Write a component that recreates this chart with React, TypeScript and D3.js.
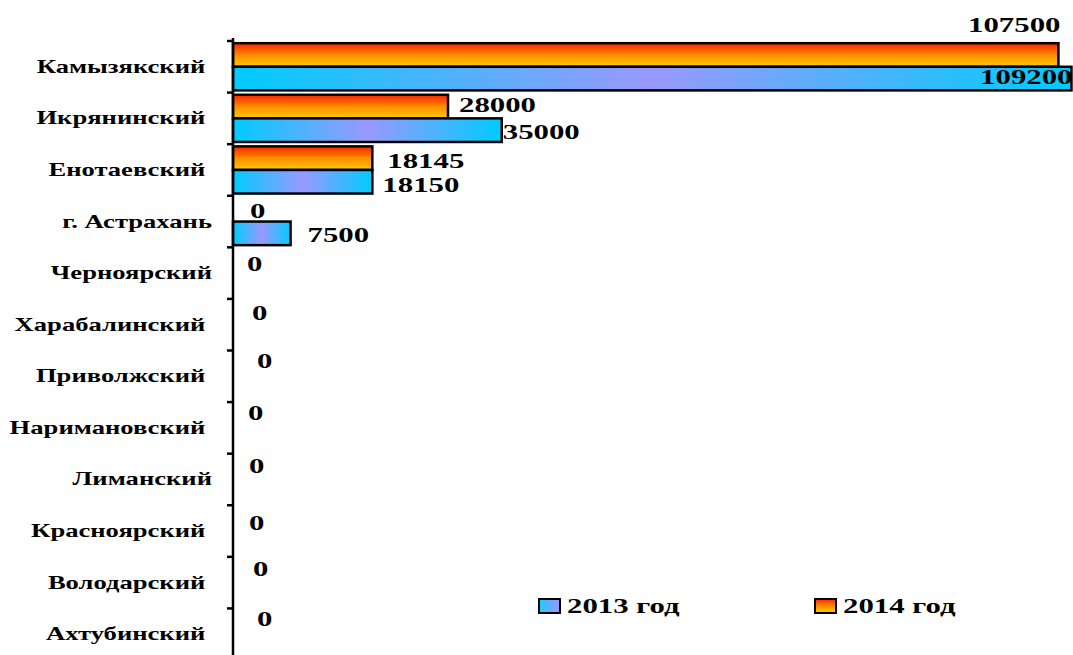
import React from "react";
import * as d3 from "d3";

// ---- data ----
const categories = [
  "Камызякский ",
  "Икрянинский ",
  "Енотаевский ",
  "г. Астрахань",
  "Черноярский",
  "Харабалинский ",
  "Приволжский ",
  "Наримановский ",
  "Лиманский",
  "Красноярский ",
  "Володарский ",
  "Ахтубинский ",
];
const values2013 = [109200, 35000, 18150, 7500, 0, 0, 0, 0, 0, 0, 0, 0];
const values2014 = [107500, 28000, 18145, 0, 0, 0, 0, 0, 0, 0, 0, 0];
const seriesNames = ["2013 год", "2014 год"];
const xMax = 109400;

// hand-placed label nudges (px), as in the original chart
const nudgeX2014 = [0, -3, 1, 3, 0, 5, 10, 1, 2, 2, 6, 10];
const nudgeY2014 = [0, -2, 2.5, 0.5, 2.5, 0, -4, -4, -2.6, 3, -2, -3.5];
const nudgeX2013 = [0, -13, -4, 3, 0, 0, 0, 0, 0, 0, 0, 0];
const nudgeY2013 = [0, 1, 2.5, 1.5, 0, 0, 0, 0, 0, 0, 0, 0];

const W = 1073;
const H = 655;
const FONT = "Liberation Serif, Times New Roman, serif";
const SX = 1.4; // horizontal stretch of the original picture's text

const x = d3.scaleLinear().domain([0, xMax]).range([233, W]);
const y = d3
  .scaleBand<string>()
  .domain(categories)
  .range([41, 660])
  .paddingInner(0.085)
  .paddingOuter(0.0425);
const ySub = d3
  .scaleBand<string>()
  .domain(["2014", "2013"])
  .range([0, y.bandwidth()]);

function StretchText({
  x0,
  y0,
  size,
  anchor = "start",
  children,
}: {
  x0: number;
  y0: number;
  size: number;
  anchor?: string;
  children: React.ReactNode;
}) {
  return (
    <text
      transform={`translate(${x0},${y0}) scale(${SX},1)`}
      fontFamily={FONT}
      fontWeight="bold"
      fontSize={size}
      textAnchor={anchor}
      fill="#000"
      style={{ whiteSpace: "pre" }}
    >
      {children}
    </text>
  );
}

export default function App() {
  const x0 = x(0);
  const gap = (y.step() - y.bandwidth()) / 2;
  const boundaries = categories.map((c) => (y(c) as number) - gap);
  const last = (y(categories[categories.length - 1]) as number) + y.bandwidth() + gap;
  const LBL = 22;
  const off = 14;

  return (
    <div style={{ position: "absolute", left: 0, top: 0 }}>
      <svg width={W} height={H} style={{ display: "block", background: "#fff" }}>
        <defs>
          <linearGradient id="gBlue" x1="0" y1="0" x2="1" y2="0">
            <stop offset="0" stopColor="#00ccff" />
            <stop offset="0.5" stopColor="#9999ff" />
            <stop offset="1" stopColor="#00ccff" />
          </linearGradient>
          <linearGradient id="gBlueLeg" x1="0" y1="0" x2="1" y2="0">
            <stop offset="0" stopColor="#22c8ff" />
            <stop offset="1" stopColor="#9999ff" />
          </linearGradient>
          <linearGradient id="gOrange" x1="0" y1="0" x2="0" y2="1">
            <stop offset="0" stopColor="#ff2200" />
            <stop offset="0.5" stopColor="#ff8c00" />
            <stop offset="1" stopColor="#ffcc00" />
          </linearGradient>
        </defs>

        {/* bars */}
        {categories.map((c, i) => {
          const by = y(c) as number;
          const v14 = values2014[i];
          const v13 = values2013[i];
          return (
            <g key={c}>
              {v14 > 0 && (
                <rect
                  x={x0}
                  y={by + (ySub("2014") as number)}
                  width={x(v14) - x0}
                  height={ySub.bandwidth()}
                  fill="url(#gOrange)"
                  stroke="#000"
                  strokeWidth={2.5}
                />
              )}
              {v13 > 0 && (
                <rect
                  x={x0}
                  y={by + (ySub("2013") as number)}
                  width={x(v13) - x0}
                  height={ySub.bandwidth()}
                  fill="url(#gBlue)"
                  stroke="#000"
                  strokeWidth={2.5}
                />
              )}
            </g>
          );
        })}

        {/* axis */}
        <line x1={x0} x2={x0} y1={38} y2={last} stroke="#000" strokeWidth={2.5} />
        {[...boundaries, last].map((b, i) => (
          <line key={i} x1={x0 - 6} x2={x0} y1={b} y2={b} stroke="#000" strokeWidth={2.5} />
        ))}

        {/* category labels */}
        {categories.map((c) => (
          <StretchText
            key={c}
            x0={212}
            y0={(y(c) as number) + y.bandwidth() / 2 + 6}
            size={19}
            anchor="end"
          >
            {c}
          </StretchText>
        ))}

        {/* value labels */}
        {categories.map((c, i) => {
          const by = y(c) as number;
          const h = ySub.bandwidth();
          const c14 = by + (ySub("2014") as number) + h / 2;
          const c13 = by + (ySub("2013") as number) + h / 2;
          const v14 = values2014[i];
          const v13 = values2013[i];
          const w14 = String(v14).length * LBL * 0.5 * SX;
          const w13 = String(v13).length * LBL * 0.5 * SX;
          const over14 = x(v14) + off + w14 > W;
          const over13 = x(v13) + off + w13 > W;
          return (
            <g key={c}>
              {over14 ? (
                <StretchText x0={x(v14) + 2} y0={c14 - h / 2 - 11} size={LBL} anchor="end">
                  {String(v14)}
                </StretchText>
              ) : (
                <StretchText
                  x0={x(v14) + off + nudgeX2014[i]}
                  y0={c14 + 7.5 + nudgeY2014[i]}
                  size={LBL}
                >
                  {String(v14)}
                </StretchText>
              )}
              {v13 > 0 &&
                (over13 ? (
                  <StretchText x0={x(v13) + 1} y0={c13 + 5} size={LBL} anchor="end">
                    {String(v13)}
                  </StretchText>
                ) : (
                  <StretchText
                    x0={x(v13) + off + nudgeX2013[i]}
                    y0={c13 + 7.5 + nudgeY2013[i]}
                    size={LBL}
                  >
                    {String(v13)}
                  </StretchText>
                ))}
            </g>
          );
        })}

        {/* legend */}
        <rect x={539} y={599} width={21} height={14} fill="url(#gBlueLeg)" stroke="#000" strokeWidth={2} />
        <StretchText x0={567} y0={613} size={LBL}>
          {seriesNames[0]}
        </StretchText>
        <rect x={815} y={599} width={21} height={14} fill="url(#gOrange)" stroke="#000" strokeWidth={2} />
        <StretchText x0={843} y0={613} size={LBL}>
          {seriesNames[1]}
        </StretchText>
      </svg>
    </div>
  );
}
